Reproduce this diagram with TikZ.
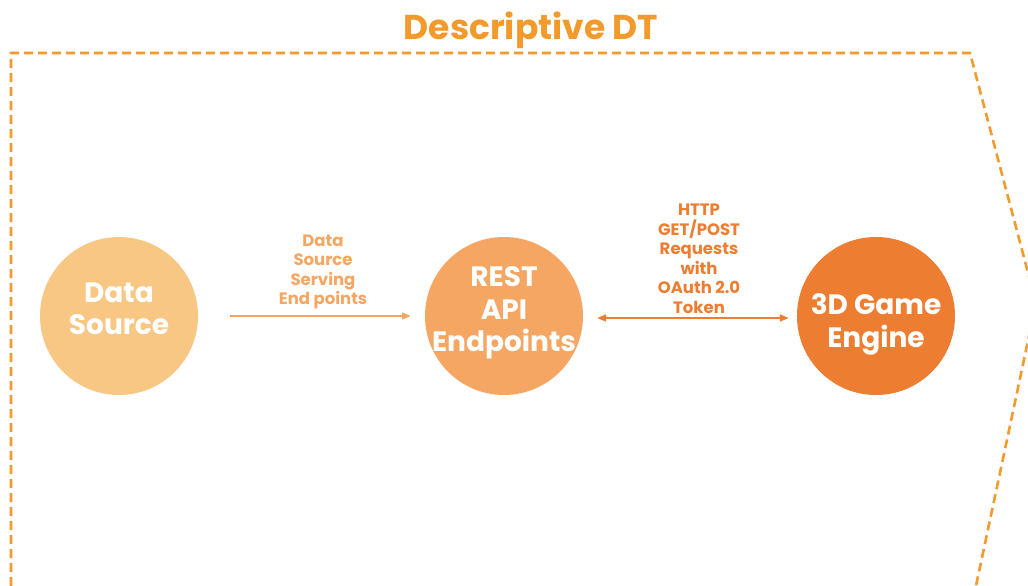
\documentclass[tikz,border=0pt]{standalone}
\usepackage{fontspec}
\setmainfont{Poppins}
\usepackage{tikz}
\usetikzlibrary{arrows.meta,positioning}
\definecolor{dtorange}{HTML}{F39A2C}
\definecolor{dtlight}{HTML}{F9C784}
\definecolor{dtmid}{HTML}{F5A663}
\definecolor{dtdark}{HTML}{ED7D31}

\begin{document}
\begin{tikzpicture}[x=1pt,y=-1pt,
  every node/.style={font=\bfseries},
  disc/.style={circle,minimum size=158pt,inner sep=0pt},
  disctext/.style={align=center,text=white,font=\fontsize{28}{32.5}\selectfont\bfseries},
  lbl/.style={align=center,font=\fontsize{16.5}{19.5}\selectfont\bfseries},
  ar/.style={-{Triangle[length=9pt,width=7pt]},line width=1.8pt}]
  \useasboundingbox (0,0) rectangle (1028,586);
  % frame of the twin
  \draw[dtorange,line width=2.6pt,dash pattern=on 9pt off 5pt]
    (11,600) -- (11,53) -- (970,53) -- (1036,303) -- (973,600);
  \node[text=dtorange,font=\fontsize{34.5}{38}\selectfont\bfseries] (title) at (531,30) {Descriptive DT};
  \node[disc,fill=dtlight] (src) at (119,316) {};
  \node[disc,fill=dtmid] (api) at (504,316) {};
  \node[disc,fill=dtdark] (eng) at (876,316) {};
  \node[disctext] (srct) at ([yshift=7pt]src.center) {Data\\Source};
  \node[disctext] (apit) at ([yshift=3pt]api.center) {REST\\API\\Endpoints};
  \node[disctext] (engt) at ([yshift=-8.5pt]eng.center) {3D Game\\Engine};
  \draw[ar,dtmid,shorten <=32pt,shorten >=14pt] (src)--(api);
  \draw[ar,dtdark,{Triangle[length=9pt,width=7pt]}-{Triangle[length=9pt,width=7pt]},shorten <=14pt,shorten >=8pt] ([yshift=-2pt]api.east)--([yshift=-2pt]eng.west);
  \node[lbl,text=dtmid] (serve) at (323,272) {Data\\Source\\Serving\\End points};
  \node[lbl,text=dtdark] (http) at (699,259) {HTTP\\GET/POST\\Requests\\with\\OAuth 2.0\\Token};
\end{tikzpicture}
\end{document}
